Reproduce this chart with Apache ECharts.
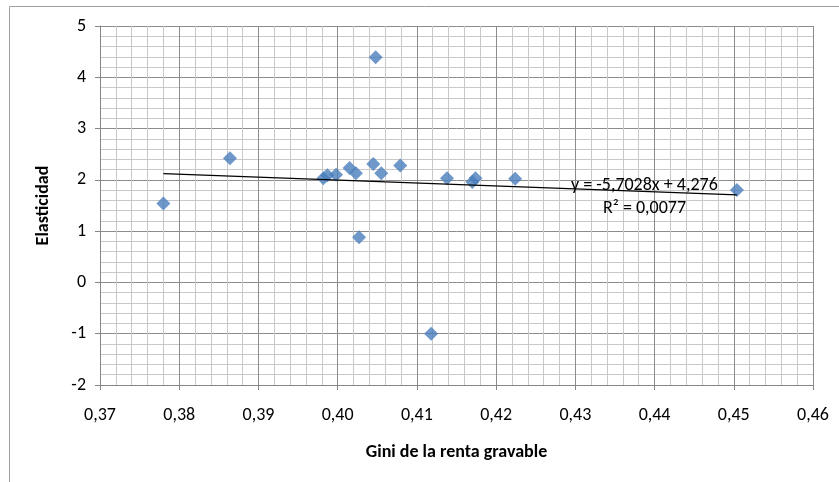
<!DOCTYPE html>
<html>
<head>
<meta charset="utf-8">
<script src="https://cdn.jsdelivr.net/npm/echarts@6/dist/echarts.min.js"></script>
<style>
  html, body { margin: 0; padding: 0; background: #fff; }
  #chart { width: 839px; height: 482px; }
</style>
</head>
<body>
<div id="chart"></div>
<script>
// Gini de la renta gravable (x) vs Elasticidad (y)
const giniX = [0.3780, 0.3864, 0.3982, 0.3987, 0.3998, 0.4015, 0.4023, 0.4027, 0.4045,
  0.4048, 0.4055, 0.4079, 0.4118, 0.4138, 0.4170, 0.4174, 0.4224, 0.4504]
const elasticidadY = [1.54, 2.42, 2.03, 2.09, 2.10, 2.23, 2.13, 0.88, 2.31,
  4.39, 2.13, 2.28, -1.00, 2.03, 1.96, 2.03, 2.02, 1.80]
// tendencia lineal (Excel)
const slope = -5.7028
const intercept = 4.276
const eqLabels = ['y = -5,7028x + 4,276', 'R² = 0,0077']

const font = 'Calibri, Carlito, "Liberation Sans", sans-serif'

let points = giniX.map((x, i) => [x, elasticidadY[i]])
let xMin = Math.min(...giniX)
let xMax = Math.max(...giniX)
let trend = [[xMin, slope * xMin + intercept], [xMax, slope * xMax + intercept]]

let chart = echarts.init(document.getElementById('chart'))
let option = {
  animation: false,
  grid: { left: 100, top: 26, right: 26, bottom: 97 },
  xAxis: {
    type: 'value',
    min: 0.37,
    max: 0.46,
    interval: 0.01,
    name: 'Gini de la renta gravable',
    nameLocation: 'middle',
    nameGap: 58,
    nameTextStyle: { fontFamily: font, fontWeight: 'bold', fontSize: 18, color: '#000' },
    axisLine: { onZero: false, lineStyle: { color: '#868686' } },
    axisTick: { show: true, length: 5, lineStyle: { color: '#868686' } },
    axisLabel: {
      fontFamily: font, fontSize: 18, color: '#000', margin: 21,
      formatter: v => v.toFixed(2).replace('.', ',')
    },
    splitLine: { show: true, lineStyle: { color: '#8c8c8c', width: 1 } },
    minorTick: { show: false, splitNumber: 5 },
    minorSplitLine: { show: true, lineStyle: { color: '#c8c8c8', width: 1 } }
  },
  yAxis: {
    type: 'value',
    min: -2,
    max: 5,
    interval: 1,
    name: 'Elasticidad',
    nameLocation: 'middle',
    nameRotate: 90,
    nameGap: 48,
    nameTextStyle: { fontFamily: font, fontWeight: 'bold', fontSize: 18, color: '#000' },
    axisLine: { show: true, onZero: false, lineStyle: { color: '#868686' } },
    axisTick: { show: true, length: 5, lineStyle: { color: '#868686' } },
    axisLabel: { fontFamily: font, fontSize: 18, color: '#000', margin: 14 },
    splitLine: { show: true, lineStyle: { color: '#8c8c8c', width: 1 } },
    minorTick: { show: false, splitNumber: 5 },
    minorSplitLine: { show: true, lineStyle: { color: '#c8c8c8', width: 1 } }
  },
  graphic: [
    {
      type: 'rect',
      shape: { x: 9.5, y: 6.5, width: 860, height: 500 },
      style: { fill: 'none', stroke: '#a0a0a0', lineWidth: 1 },
      silent: true
    },
    {
      type: 'text',
      left: 571, top: 176, z: 10,
      style: { text: eqLabels[0], font: '18px ' + font, fill: '#000' }
    },
    {
      type: 'text',
      left: 603, top: 199, z: 10,
      style: { text: eqLabels[1], font: '18px ' + font, fill: '#000' }
    }
  ],
  series: [
    {
      type: 'scatter',
      data: points,
      symbol: 'diamond',
      symbolSize: 14,
      itemStyle: { color: '#4a7ebb' },
      z: 3
    },
    {
      type: 'line',
      data: trend,
      symbol: 'none',
      lineStyle: { color: '#000', width: 1.2 },
      z: 4
    }
  ]
}
chart.setOption(option)
</script>
</body>
</html>
